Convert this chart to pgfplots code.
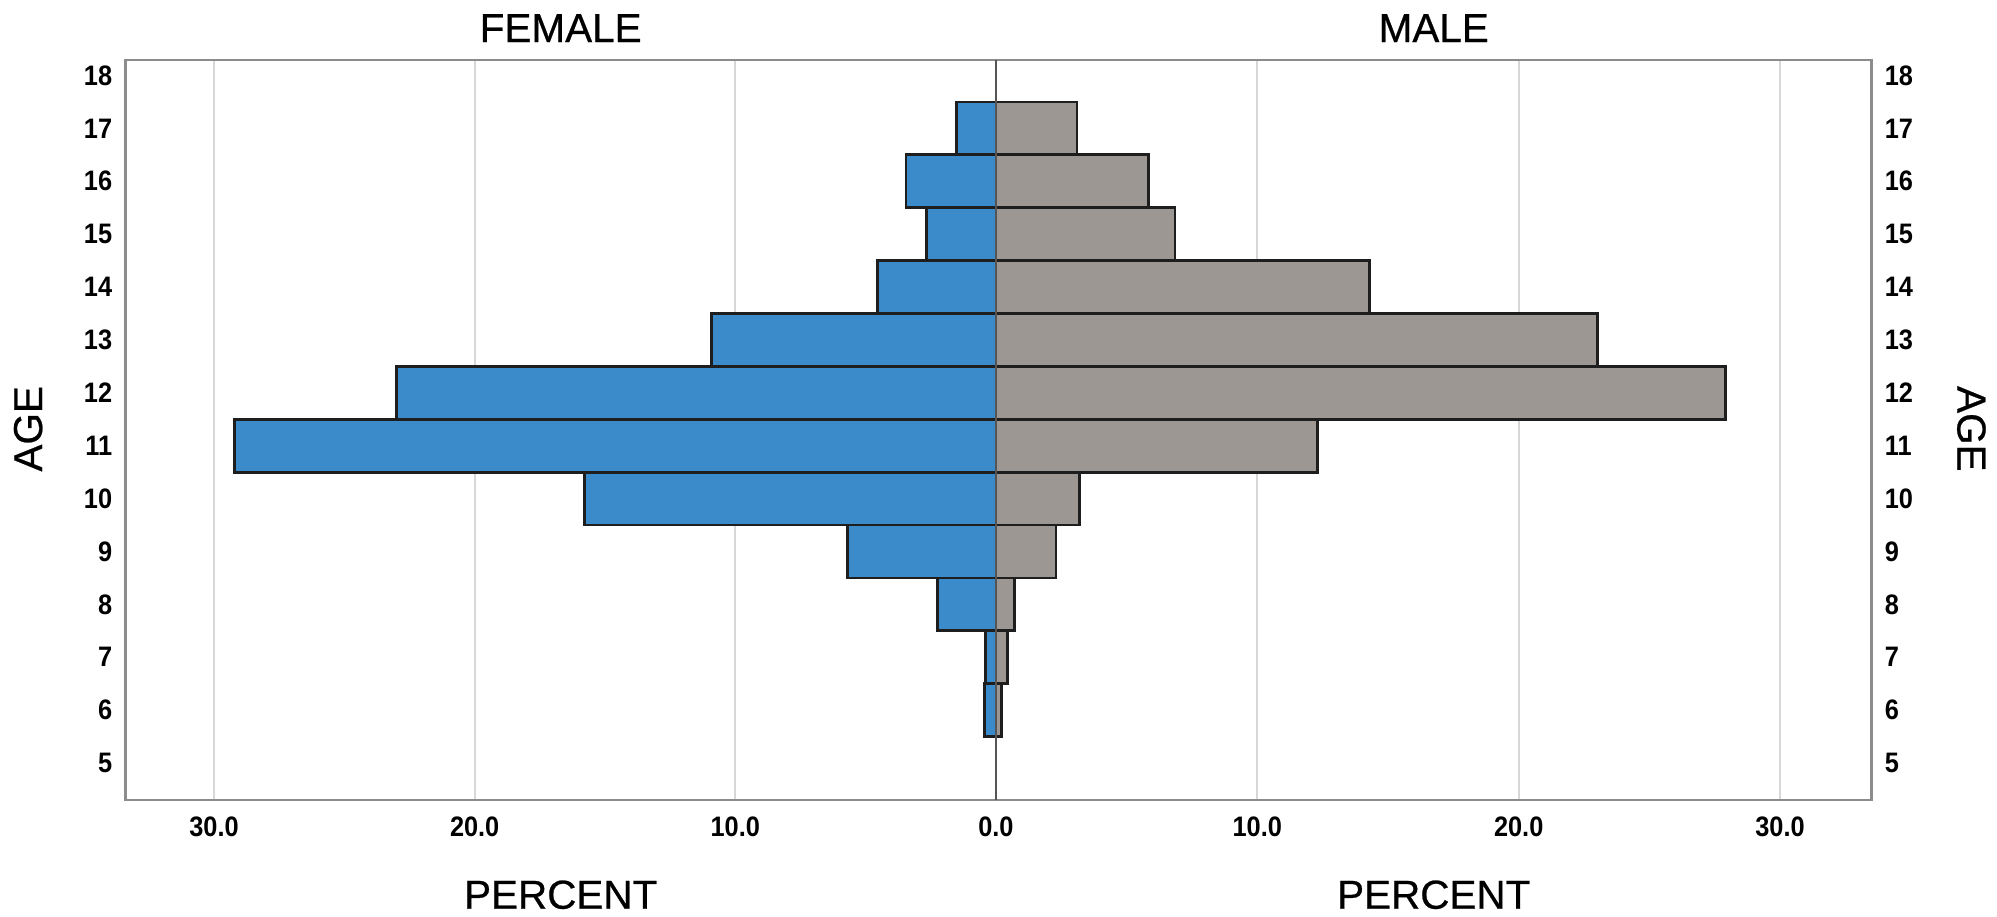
\documentclass[border=0pt]{standalone}
\usepackage{pgfplots}
\pgfplotsset{compat=1.18}
\usepackage{fontspec}
\setmainfont{Liberation Sans}
\newfontfamily\tickfont{Liberation Sans}[FakeStretch=0.9]
\newfontfamily\titlefont{Liberation Sans}[FakeBold=0.6]
\definecolor{fblue}{RGB}{59,139,203}
\definecolor{mgray}{RGB}{157,151,147}
\definecolor{framegray}{RGB}{140,140,140}
\definecolor{gridgray}{RGB}{215,215,215}
\definecolor{zerogray}{RGB}{85,85,85}
\definecolor{edge}{RGB}{30,30,30}
\begin{document}
\begin{tikzpicture}
\pgfplotsset{
 pyr/.style={
  scale only axis, height=289pt, ymin=4.3, ymax=18.29,
  ytick={5,...,18}, major tick length=0pt,
  axis line style={framegray, line width=0.9pt},
  xmajorgrids, major grid style={gridgray, line width=0.9pt},
  xbar, bar width=1, bar shift=0pt,
  tick label style={font=\tickfont\bfseries\fontsize{11}{13}\selectfont},
  /pgf/number format/assume math mode=true,
  xticklabel style={anchor=center, yshift=-10.5pt, /pgf/number format/fixed, /pgf/number format/fixed zerofill, /pgf/number format/precision=1},
 }
}
\useasboundingbox (-49pt,-45.5pt) rectangle (731pt,312.5pt);
% FEMALE
\begin{axis}[pyr, at={(0pt,0pt)}, anchor=south west, width=340pt,
 xmin=0, xmax=33.4, x dir=reverse, xtick={10,20,30},
 yticklabel style={anchor=east, inner sep=0pt, xshift=-5pt}]
\addplot[fill=fblue, draw=edge, line width=1.1pt] coordinates {
 (0.45,6) (0.4,7) (2.25,8) (5.7,9) (15.8,10) (29.2,11) (23.0,12) (10.9,13) (4.55,14) (2.65,15) (3.45,16) (1.5,17)};
\end{axis}
% MALE
\begin{axis}[pyr, at={(340pt,0pt)}, anchor=south west, width=342pt,
 xmin=0, xmax=33.5, xtick={0,10,20,30}, yticklabel pos=right, clip=false,
 yticklabel style={anchor=west, inner sep=0pt, xshift=5pt}]
\addplot[fill=mgray, draw=edge, line width=1.1pt] coordinates {
 (0.22,6) (0.45,7) (0.7,8) (2.3,9) (3.2,10) (12.3,11) (27.9,12) (23.0,13) (14.3,14) (6.85,15) (5.85,16) (3.1,17)};
\draw[zerogray, line width=1.1pt] (axis cs:0,4.3) -- (axis cs:0,18.29);
\end{axis}
\node[font=\titlefont\fontsize{15.8}{18}\selectfont] at (170pt,301.5pt) {FEMALE};
\node[font=\titlefont\fontsize{15.8}{18}\selectfont] at (511pt,301.5pt) {MALE};
\node[font=\titlefont\fontsize{15.8}{18}\selectfont] at (170pt,-37pt) {PERCENT};
\node[font=\titlefont\fontsize{15.8}{18}\selectfont] at (511pt,-37pt) {PERCENT};
\node[font=\titlefont\fontsize{15.8}{18}\selectfont, rotate=90] at (-38pt,145pt) {AGE};
\node[font=\titlefont\fontsize{15.8}{18}\selectfont, rotate=-90] at (721pt,145pt) {AGE};
\end{tikzpicture}
\end{document}
